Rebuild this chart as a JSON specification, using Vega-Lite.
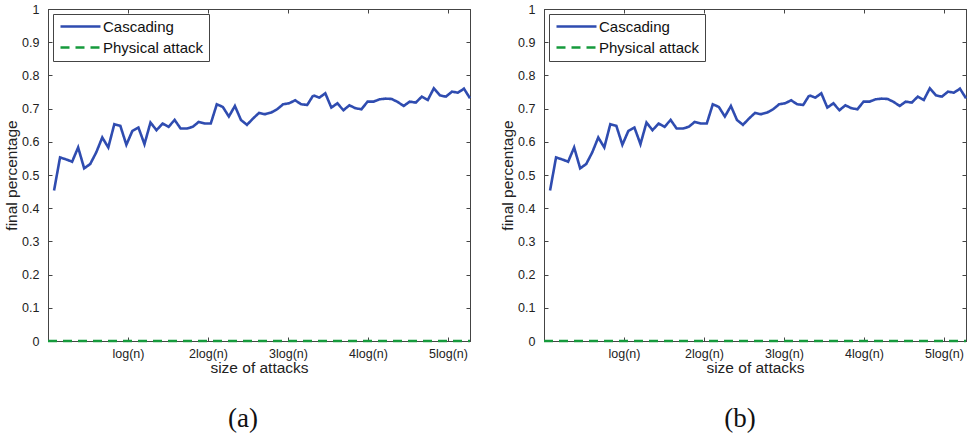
{
  "$schema": "https://vega.github.io/schema/vega-lite/v6.json",
  "padding": {"left": 4, "top": 2, "right": 0, "bottom": 0},
  "spacing": 24,
  "config": {
    "font": "Liberation Sans",
    "view": {"stroke": "#444", "strokeWidth": 1},
    "axis": {
      "labelFont": "Liberation Sans", "labelFontSize": 12.5, "labelColor": "#222",
      "titleFont": "Liberation Sans", "titleFontSize": 15.5, "titleColor": "#222", "titleFontWeight": "normal",
      "domainColor": "#444", "tickColor": "#444", "tickSize": -4, "grid": false
    },
    "legend": {
      "labelFont": "Liberation Sans", "labelFontSize": 15, "labelColor": "#111"
    }
  },
  "datasets": {
    "curve": [
      {"k": 0, "Physical attack": 0},
      {"k": 1, "Cascading": 0.453, "Physical attack": 0},
      {"k": 2, "Cascading": 0.553, "Physical attack": 0},
      {"k": 3, "Cascading": 0.547, "Physical attack": 0},
      {"k": 4, "Cascading": 0.54, "Physical attack": 0},
      {"k": 5, "Cascading": 0.583, "Physical attack": 0},
      {"k": 6, "Cascading": 0.52, "Physical attack": 0},
      {"k": 7, "Cascading": 0.533, "Physical attack": 0},
      {"k": 8, "Cascading": 0.568, "Physical attack": 0},
      {"k": 9, "Cascading": 0.613, "Physical attack": 0},
      {"k": 10, "Cascading": 0.583, "Physical attack": 0},
      {"k": 11, "Cascading": 0.653, "Physical attack": 0},
      {"k": 12, "Cascading": 0.648, "Physical attack": 0},
      {"k": 13, "Cascading": 0.591, "Physical attack": 0},
      {"k": 14, "Cascading": 0.633, "Physical attack": 0},
      {"k": 15, "Cascading": 0.643, "Physical attack": 0},
      {"k": 16, "Cascading": 0.593, "Physical attack": 0},
      {"k": 17, "Cascading": 0.658, "Physical attack": 0},
      {"k": 18, "Cascading": 0.635, "Physical attack": 0},
      {"k": 19, "Cascading": 0.655, "Physical attack": 0},
      {"k": 20, "Cascading": 0.645, "Physical attack": 0},
      {"k": 21, "Cascading": 0.666, "Physical attack": 0},
      {"k": 22, "Cascading": 0.64, "Physical attack": 0},
      {"k": 23, "Cascading": 0.64, "Physical attack": 0},
      {"k": 24, "Cascading": 0.645, "Physical attack": 0},
      {"k": 25, "Cascading": 0.66, "Physical attack": 0},
      {"k": 26, "Cascading": 0.655, "Physical attack": 0},
      {"k": 27, "Cascading": 0.655, "Physical attack": 0},
      {"k": 28, "Cascading": 0.713, "Physical attack": 0},
      {"k": 29, "Cascading": 0.705, "Physical attack": 0},
      {"k": 30, "Cascading": 0.676, "Physical attack": 0},
      {"k": 31, "Cascading": 0.708, "Physical attack": 0},
      {"k": 32, "Cascading": 0.666, "Physical attack": 0},
      {"k": 33, "Cascading": 0.651, "Physical attack": 0},
      {"k": 34, "Cascading": 0.67, "Physical attack": 0},
      {"k": 35, "Cascading": 0.687, "Physical attack": 0},
      {"k": 36, "Cascading": 0.683, "Physical attack": 0},
      {"k": 37, "Cascading": 0.688, "Physical attack": 0},
      {"k": 38, "Cascading": 0.698, "Physical attack": 0},
      {"k": 39, "Cascading": 0.713, "Physical attack": 0},
      {"k": 40, "Cascading": 0.716, "Physical attack": 0},
      {"k": 41, "Cascading": 0.725, "Physical attack": 0},
      {"k": 42, "Cascading": 0.713, "Physical attack": 0},
      {"k": 43, "Cascading": 0.711, "Physical attack": 0},
      {"k": 44, "Cascading": 0.74, "Physical attack": 0},
      {"k": 45, "Cascading": 0.733, "Physical attack": 0},
      {"k": 46, "Cascading": 0.746, "Physical attack": 0},
      {"k": 47, "Cascading": 0.703, "Physical attack": 0},
      {"k": 48, "Cascading": 0.716, "Physical attack": 0},
      {"k": 49, "Cascading": 0.695, "Physical attack": 0},
      {"k": 50, "Cascading": 0.71, "Physical attack": 0},
      {"k": 51, "Cascading": 0.701, "Physical attack": 0},
      {"k": 52, "Cascading": 0.698, "Physical attack": 0},
      {"k": 53, "Cascading": 0.721, "Physical attack": 0},
      {"k": 54, "Cascading": 0.721, "Physical attack": 0},
      {"k": 55, "Cascading": 0.728, "Physical attack": 0},
      {"k": 56, "Cascading": 0.73, "Physical attack": 0},
      {"k": 57, "Cascading": 0.729, "Physical attack": 0},
      {"k": 58, "Cascading": 0.72, "Physical attack": 0},
      {"k": 59, "Cascading": 0.708, "Physical attack": 0},
      {"k": 60, "Cascading": 0.721, "Physical attack": 0},
      {"k": 61, "Cascading": 0.718, "Physical attack": 0},
      {"k": 62, "Cascading": 0.736, "Physical attack": 0},
      {"k": 63, "Cascading": 0.726, "Physical attack": 0},
      {"k": 64, "Cascading": 0.761, "Physical attack": 0},
      {"k": 65, "Cascading": 0.74, "Physical attack": 0},
      {"k": 66, "Cascading": 0.736, "Physical attack": 0},
      {"k": 67, "Cascading": 0.751, "Physical attack": 0},
      {"k": 68, "Cascading": 0.748, "Physical attack": 0},
      {"k": 69, "Cascading": 0.76, "Physical attack": 0},
      {"k": 70, "Cascading": 0.731, "Physical attack": 0}
    ]
  },
  "resolve": {
    "scale": {"color": "independent", "strokeDash": "independent"},
    "legend": {"color": "independent", "strokeDash": "independent"}
  },
  "hconcat": [
    {
      "width": 422, "height": 332,
      "title": {"text": "(a)", "orient": "bottom", "anchor": "middle", "font": "Liberation Serif", "fontSize": 27, "fontWeight": "normal", "color": "#111", "offset": 30, "dx": -16},
      "data": {"name": "curve"},
      "transform": [{"fold": ["Cascading", "Physical attack"], "as": ["series", "value"]}],
      "layer": [
        {
          "mark": {"type": "line", "strokeWidth": 2.6},
          "encoding": {
            "x": {"field": "k", "type": "quantitative", "scale": {"domain": [0, 70], "nice": false, "zero": false},
                  "axis": {"orient": "bottom", "title": "size of attacks", "values": [13.27, 26.54, 39.81, 53.08, 66.35],
                           "labelExpr": "['log(n)','2log(n)','3log(n)','4log(n)','5log(n)'][round(datum.value/13.27)-1]",
                           "labelPadding": 10, "titlePadding": 1}},
            "y": {"field": "value", "type": "quantitative", "scale": {"domain": [0, 1], "nice": false},
                  "axis": {"orient": "left", "title": "final percentage", "values": [0, 0.1, 0.2, 0.3, 0.4, 0.5, 0.6, 0.7, 0.8, 0.9, 1],
                           "format": ".1~f", "labelPadding": 13, "titlePadding": 2}},
            "color": {"field": "series", "type": "nominal",
                      "scale": {"domain": ["Cascading", "Physical attack"], "range": ["#2F4CB0", "#169A3C"]},
                      "legend": {"title": null, "orient": "top-left", "offset": 5, "fillColor": "#fff", "strokeColor": "#444", "padding": 5,
                                 "symbolType": "M-1,0H7", "symbolSize": 100, "symbolStrokeWidth": 2.6, "labelOffset": 30, "rowPadding": 5}},
            "strokeDash": {"field": "series", "type": "nominal",
                           "scale": {"domain": ["Cascading", "Physical attack"], "range": [[1, 0], [9, 6]]},
                           "legend": {"title": null, "orient": "top-left", "offset": 5, "fillColor": "#fff", "strokeColor": "#444", "padding": 5,
                                      "symbolType": "M-1,0H7", "symbolSize": 100, "symbolStrokeWidth": 2.6, "labelOffset": 30, "rowPadding": 5}}
          }
        },
        {
          "mark": {"type": "line", "strokeOpacity": 0},
          "encoding": {
            "x": {"field": "k", "type": "quantitative", "scale": {"domain": [0, 70], "nice": false, "zero": false},
                  "axis": {"orient": "top", "title": null, "labels": false, "values": [13.27, 26.54, 39.81, 53.08, 66.35]}},
            "y": {"field": "value", "type": "quantitative", "scale": {"domain": [0, 1], "nice": false},
                  "axis": {"orient": "right", "title": null, "labels": false, "values": [0, 0.1, 0.2, 0.3, 0.4, 0.5, 0.6, 0.7, 0.8, 0.9, 1]}},
            "detail": {"field": "series"}
          }
        }
      ],
      "resolve": {"axis": {"x": "independent", "y": "independent"}}
    },
    {
      "width": 422, "height": 332,
      "title": {"text": "(b)", "orient": "bottom", "anchor": "middle", "font": "Liberation Serif", "fontSize": 27, "fontWeight": "normal", "color": "#111", "offset": 30, "dx": -15},
      "data": {"name": "curve"},
      "transform": [{"fold": ["Cascading", "Physical attack"], "as": ["series", "value"]}],
      "layer": [
        {
          "mark": {"type": "line", "strokeWidth": 2.6},
          "encoding": {
            "x": {"field": "k", "type": "quantitative", "scale": {"domain": [0, 70], "nice": false, "zero": false},
                  "axis": {"orient": "bottom", "title": "size of attacks", "values": [13.27, 26.54, 39.81, 53.08, 66.35],
                           "labelExpr": "['log(n)','2log(n)','3log(n)','4log(n)','5log(n)'][round(datum.value/13.27)-1]",
                           "labelPadding": 10, "titlePadding": 1}},
            "y": {"field": "value", "type": "quantitative", "scale": {"domain": [0, 1], "nice": false},
                  "axis": {"orient": "left", "title": "final percentage", "values": [0, 0.1, 0.2, 0.3, 0.4, 0.5, 0.6, 0.7, 0.8, 0.9, 1],
                           "format": ".1~f", "labelPadding": 13, "titlePadding": 2}},
            "color": {"field": "series", "type": "nominal",
                      "scale": {"domain": ["Cascading", "Physical attack"], "range": ["#2F4CB0", "#169A3C"]},
                      "legend": {"title": null, "orient": "top-left", "offset": 5, "fillColor": "#fff", "strokeColor": "#444", "padding": 5,
                                 "symbolType": "M-1,0H7", "symbolSize": 100, "symbolStrokeWidth": 2.6, "labelOffset": 30, "rowPadding": 5}},
            "strokeDash": {"field": "series", "type": "nominal",
                           "scale": {"domain": ["Cascading", "Physical attack"], "range": [[1, 0], [9, 6]]},
                           "legend": {"title": null, "orient": "top-left", "offset": 5, "fillColor": "#fff", "strokeColor": "#444", "padding": 5,
                                      "symbolType": "M-1,0H7", "symbolSize": 100, "symbolStrokeWidth": 2.6, "labelOffset": 30, "rowPadding": 5}}
          }
        },
        {
          "mark": {"type": "line", "strokeOpacity": 0},
          "encoding": {
            "x": {"field": "k", "type": "quantitative", "scale": {"domain": [0, 70], "nice": false, "zero": false},
                  "axis": {"orient": "top", "title": null, "labels": false, "values": [13.27, 26.54, 39.81, 53.08, 66.35]}},
            "y": {"field": "value", "type": "quantitative", "scale": {"domain": [0, 1], "nice": false},
                  "axis": {"orient": "right", "title": null, "labels": false, "values": [0, 0.1, 0.2, 0.3, 0.4, 0.5, 0.6, 0.7, 0.8, 0.9, 1]}},
            "detail": {"field": "series"}
          }
        }
      ],
      "resolve": {"axis": {"x": "independent", "y": "independent"}}
    }
  ]
}
